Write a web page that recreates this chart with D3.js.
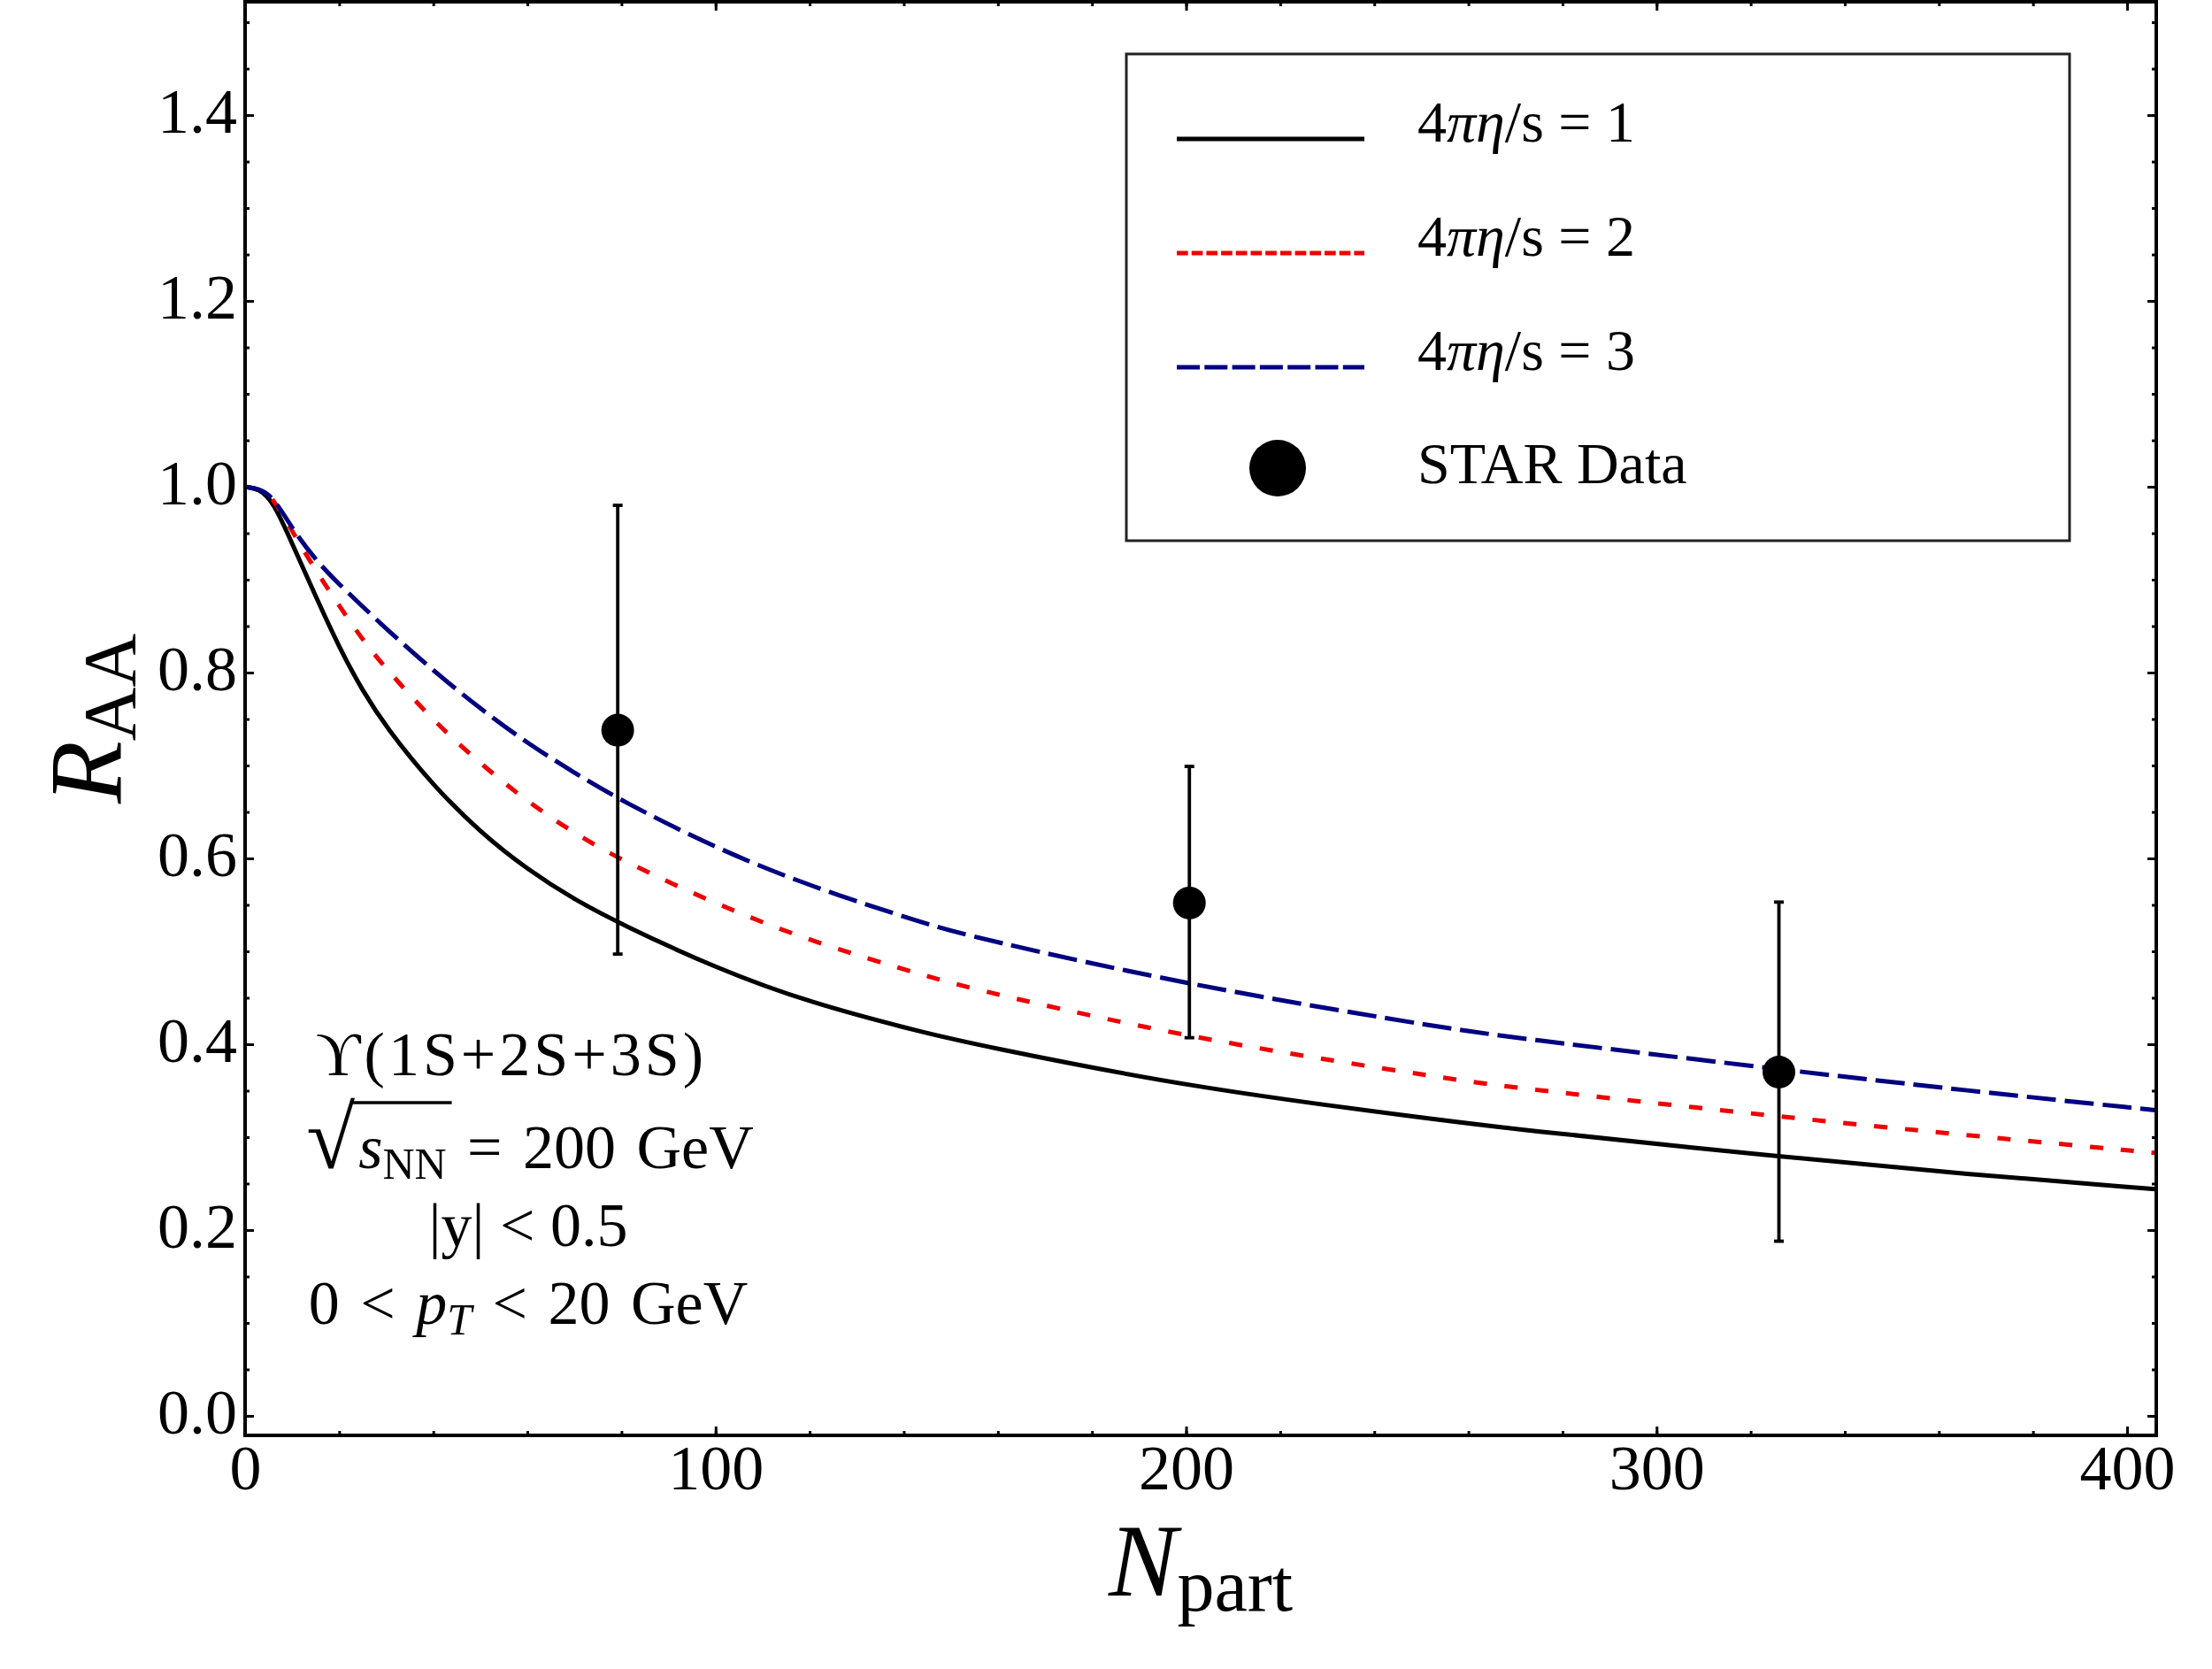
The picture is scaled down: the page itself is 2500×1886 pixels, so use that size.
<!DOCTYPE html>
<html>
<head>
<meta charset="utf-8">
<script src="https://cdn.jsdelivr.net/npm/d3@7"></script>
<style>
body{margin:0;background:#fff;}
text{font-family:"Liberation Serif","Times New Roman",serif;}
</style>
</head>
<body>
<script>
// model curves
var nPart   = [0, 3, 6, 10, 15, 20, 25, 30, 40, 50, 60, 70, 80, 100, 120, 145, 155, 200, 253, 268, 326, 366, 406];
var raaEta1 = [1.0, 0.998, 0.984, 0.939, 0.882, 0.827, 0.780, 0.741, 0.678, 0.628, 0.588, 0.5555, 0.529, 0.482, 0.4445, 0.4115, 0.400, 0.354, 0.319, 0.3095, 0.279, 0.260, 0.244];
var raaEta2 = [1.0, 0.998, 0.988, 0.952, 0.910, 0.872, 0.835, 0.804, 0.748, 0.702, 0.661, 0.627, 0.598, 0.551, 0.511, 0.473, 0.459, 0.407, 0.365, 0.354, 0.322, 0.302, 0.283];
var raaEta3 = [1.0, 0.998, 0.989, 0.955, 0.921, 0.895, 0.871, 0.847, 0.802, 0.761, 0.724, 0.692, 0.662, 0.611, 0.570, 0.529, 0.515, 0.464, 0.419, 0.408, 0.373, 0.350, 0.329];

// STAR data points
var starN    = [79.2, 200.7, 326];
var starRaa  = [0.738, 0.552, 0.370];
var starHigh = [0.980, 0.699, 0.553];
var starLow  = [0.497, 0.407, 0.188];

var xTicks = [0, 100, 200, 300, 400];
var yTicks = [0.0, 0.2, 0.4, 0.6, 0.8, 1.0, 1.2, 1.4];
var etaValues = ["1", "2", "3"];

var w = 2500, h = 1886;
var padL = 277, padR = 2437, padT = 2, padB = 1622;

var svg = d3.select("body").append("svg")
	.attr("width", w)
	.attr("height", h);

svg.append("rect").attr("width", w).attr("height", h).attr("fill", "white");

var x = d3.scaleLinear().domain([0, 406.2]).range([padL, padR]);
var y = d3.scaleLinear().domain([-0.021, 1.522]).range([padB, padT]);

function styleAxis(g){
	g.select(".domain").remove();
	g.selectAll("line").attr("stroke", "black").attr("stroke-width", 3);
	g.attr("font-family", null).attr("font-size", null);
	g.selectAll("text").attr("font-size", 72).attr("fill", "black");
}

var xMinor = d3.range(0, 407, 20);
var yMinor = d3.range(0, 1.51, 0.05);

// minor ticks
svg.append("g").attr("transform", "translate(0," + padB + ")")
	.call(d3.axisBottom(x).tickValues(xMinor).tickSize(-5).tickFormat(""))
	.call(styleAxis);
svg.append("g").attr("transform", "translate(0," + padT + ")")
	.call(d3.axisTop(x).tickValues(xMinor).tickSize(-5).tickFormat(""))
	.call(styleAxis);
svg.append("g").attr("transform", "translate(" + padL + ",0)")
	.call(d3.axisLeft(y).tickValues(yMinor).tickSize(-5).tickFormat(""))
	.call(styleAxis);
svg.append("g").attr("transform", "translate(" + padR + ",0)")
	.call(d3.axisRight(y).tickValues(yMinor).tickSize(-5).tickFormat(""))
	.call(styleAxis);

// major ticks
svg.append("g").attr("transform", "translate(0," + padB + ")")
	.call(d3.axisBottom(x).tickValues(xTicks).tickSize(-10).tickPadding(10).tickFormat(d3.format("d")))
	.call(styleAxis);
svg.append("g").attr("transform", "translate(0," + padT + ")")
	.call(d3.axisTop(x).tickValues(xTicks).tickSize(-10).tickFormat(""))
	.call(styleAxis);
var yAx = svg.append("g").attr("transform", "translate(" + padL + ",0)")
	.call(d3.axisLeft(y).tickValues(yTicks).tickSize(-10).tickPadding(9).tickFormat(d3.format(".1f")))
	.call(styleAxis);
yAx.selectAll("text").attr("dy", "0.27em");
svg.append("g").attr("transform", "translate(" + padR + ",0)")
	.call(d3.axisRight(y).tickValues(yTicks).tickSize(-10).tickFormat(""))
	.call(styleAxis);

svg.append("clipPath").attr("id", "plotclip")
	.append("rect").attr("x", padL).attr("y", padT).attr("width", padR - padL).attr("height", padB - padT);

var plot = svg.append("g").attr("clip-path", "url(#plotclip)");

var series = [
	{vals: raaEta1, color: "black", dash: null, legendDash: null},
	{vals: raaEta2, color: "#ee0000", dash: "15,20", legendDash: "12.7,4"},
	{vals: raaEta3, color: "#000080", dash: "33,10", legendDash: "26,5.3"}
];

var line = d3.line()
	.x(function(d){return x(d[0]);})
	.y(function(d){return y(d[1]);})
	.curve(d3.curveBasis);

series.forEach(function(s){
	plot.append("path")
		.datum(nPart.map(function(n, i){return [n, s.vals[i]];}))
		.attr("d", line)
		.attr("fill", "none")
		.attr("stroke", s.color)
		.attr("stroke-width", 5)
		.attr("stroke-dasharray", s.dash);
});

// error bars + points
starN.forEach(function(n, i){
	plot.append("line")
		.attr("x1", x(n)).attr("x2", x(n))
		.attr("y1", y(starLow[i])).attr("y2", y(starHigh[i]))
		.attr("stroke", "black").attr("stroke-width", 3.8);
	[starLow[i], starHigh[i]].forEach(function(v){
		plot.append("line")
			.attr("x1", x(n) - 5.5).attr("x2", x(n) + 5.5)
			.attr("y1", y(v)).attr("y2", y(v))
			.attr("stroke", "black").attr("stroke-width", 3.8);
	});
	plot.append("circle")
		.attr("cx", x(n)).attr("cy", y(starRaa[i]))
		.attr("r", 18.5).attr("fill", "black");
});

// frame
svg.append("rect")
	.attr("x", padL).attr("y", padT)
	.attr("width", padR - padL).attr("height", padB - padT)
	.attr("fill", "none").attr("stroke", "black").attr("stroke-width", 4);

// legend
var legend = svg.append("g");
legend.append("rect")
	.attr("x", 1273).attr("y", 61).attr("width", 1066).attr("height", 550)
	.attr("fill", "white").attr("stroke", "#222").attr("stroke-width", 3);

var legendY = [157, 286, 415];
series.forEach(function(s, i){
	legend.append("line")
		.attr("x1", 1330).attr("x2", 1542)
		.attr("y1", legendY[i]).attr("y2", legendY[i])
		.attr("stroke", s.color).attr("stroke-width", 5)
		.attr("stroke-dasharray", s.legendDash);
	var t = legend.append("text")
		.attr("x", 1602).attr("y", legendY[i] + 3)
		.attr("font-size", 66);
	t.append("tspan").text("4");
	t.append("tspan").attr("font-style", "italic").text("πη");
	t.append("tspan").text("/s = " + etaValues[i]);
});
legend.append("circle").attr("cx", 1444).attr("cy", 529).attr("r", 32).attr("fill", "black");
legend.append("text").attr("x", 1602).attr("y", 546).attr("font-size", 66).text("STAR Data");

// axis titles
var yTitle = svg.append("text")
	.attr("transform", "translate(137," + ((padT + padB) / 2) + ") rotate(-90)")
	.attr("text-anchor", "middle");
yTitle.append("tspan").attr("font-style", "italic").attr("font-size", 116).text("R");
yTitle.append("tspan").attr("font-size", 84).attr("dy", 16).text("AA");

var xTitle = svg.append("text")
	.attr("x", (padL + padR) / 2).attr("y", 1803)
	.attr("text-anchor", "middle");
xTitle.append("tspan").attr("font-style", "italic").attr("font-size", 116).text("N");
xTitle.append("tspan").attr("font-size", 84).attr("dy", 17).text("part");

// annotation block
var cx = 597;
svg.append("text").attr("x", 578).attr("y", 1215).attr("text-anchor", "middle")
	.attr("font-size", 70).attr("letter-spacing", 4).text("ϒ(1S+2S+3S)");

var sq = svg.append("text").attr("x", 0).attr("y", 1320).attr("font-size", 70).attr("word-spacing", 6);
sq.append("tspan").attr("font-size", 100).text("√");
sq.append("tspan").attr("font-style", "italic").attr("dx", 4).text("s");
sq.append("tspan").attr("font-size", 50).attr("dy", 12).text("NN");
sq.append("tspan").attr("dy", -12).text(" = 200 GeV");
var sqW = sq.node().getComputedTextLength();
sq.attr("x", cx - sqW / 2);
var barStart = sq.node().getEndPositionOfChar(0).x - 3;
var barEnd = sq.node().getEndPositionOfChar(3).x + 6;
svg.append("line")
	.attr("x1", barStart).attr("x2", barEnd)
	.attr("y1", 1246).attr("y2", 1246)
	.attr("stroke", "black").attr("stroke-width", 3.5);

svg.append("text").attr("x", cx).attr("y", 1408).attr("text-anchor", "middle")
	.attr("font-size", 70).text("|y| < 0.5");

var pt = svg.append("text").attr("x", cx).attr("y", 1496).attr("text-anchor", "middle")
	.attr("font-size", 70).attr("word-spacing", 6);
pt.append("tspan").text("0 < ");
pt.append("tspan").attr("font-style", "italic").text("p");
pt.append("tspan").attr("font-style", "italic").attr("font-size", 50).attr("dy", 12).text("T");
pt.append("tspan").attr("dy", -12).text(" < 20 GeV");
</script>
</body>
</html>
